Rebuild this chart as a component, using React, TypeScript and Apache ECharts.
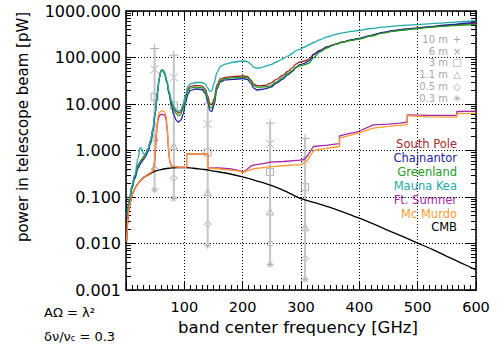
import React, { useEffect, useRef } from 'react';
import * as echarts from 'echarts';

// ---------- data ----------
const siteFreqs = [2, 6, 10, 15, 21, 24, 27, 30, 33, 38, 42, 46, 50, 54, 57, 60, 63, 66, 70, 74, 78, 82, 86, 90, 94, 98, 102, 106, 110, 120, 130, 136, 140, 144, 147, 151, 156, 162, 170, 185, 200, 208, 214, 219, 224, 230, 240, 248, 258, 268, 278, 285, 291, 298, 306, 314, 322, 332, 344, 358, 372, 386, 400, 420, 440, 460, 480, 500, 520, 540, 560, 580, 600];

const southPole = [0.04, 0.09, 0.17, 0.28, 0.48, 0.56, 0.64, 0.72, 0.82, 1.1, 1.6, 2.8, 6.5, 18, 36, 50, 53, 46, 30, 17, 11, 8.2, 7, 6.4, 6.8, 9, 14.5, 21, 24, 25, 24.5, 21, 15, 10, 9.5, 13, 26, 35, 37.5, 39, 40, 39, 33, 27, 25, 24.5, 25.5, 28, 34, 41, 51, 60, 72, 80, 84, 92, 120, 142, 168, 192, 215, 235, 255, 295, 342, 375, 400, 425, 450, 475, 500, 525, 550];
const chajnantor = [0.035, 0.08, 0.15, 0.25, 0.42, 0.5, 0.57, 0.64, 0.72, 0.95, 1.4, 2.5, 6, 17, 36, 52, 55, 47, 30, 16, 9, 5.8, 4.5, 4.1, 4.5, 6, 10.5, 16, 19.5, 21, 20.5, 17, 11, 7.2, 6.9, 9.5, 21, 30, 33, 34, 35, 34, 28, 22, 20, 20.5, 21.5, 23, 28, 34, 43, 50, 60, 70, 75, 85, 115, 138, 166, 192, 217, 238, 258, 300, 348, 382, 410, 435, 460, 490, 515, 545, 580];
const greenland = [0.04, 0.09, 0.17, 0.28, 0.48, 0.56, 0.64, 0.72, 0.82, 1.1, 1.6, 2.8, 6.5, 18, 36, 50, 53, 46, 30, 17, 10.5, 7.5, 6.2, 5.6, 6.0, 8, 13, 19, 22, 23, 22.5, 19, 13, 8.5, 8.2, 11, 23, 32, 35, 37, 38, 37, 31, 25, 23, 23, 23.5, 24.6, 30, 37, 46, 52, 62, 66, 70, 76, 100, 130, 160, 190, 215, 235, 250, 290, 335, 370, 395, 420, 445, 465, 485, 500, 515];
const maunaKea = [0.04, 0.09, 0.17, 0.3, 0.7, 1.15, 1.1, 0.85, 0.85, 1.1, 1.6, 2.8, 6.5, 18, 37, 52, 55, 48, 32, 19, 12, 8.8, 7.5, 6.9, 7.5, 10, 16, 24, 27, 29, 29, 27, 22, 18.6, 19, 28, 48, 64, 72, 80, 84, 82, 72, 62, 59, 60, 65, 70, 80, 92, 108, 122, 140, 150, 168, 188, 210, 240, 275, 310, 340, 365, 385, 420, 450, 475, 495, 510, 530, 550, 570, 595, 620];

const ftSumnerFreq = [1, 3, 5, 10, 15, 20, 30, 40, 46, 49, 51, 53, 55, 57, 59, 62, 65, 67, 69, 71, 73, 75, 78, 90, 104, 104, 140, 140, 160, 180, 195, 200, 206, 215, 221, 235, 247, 270, 298, 305, 310, 316, 321, 345, 366, 366, 382, 398, 424, 450, 470, 482, 482, 520, 567, 567, 600];
const ftSumnerVal = [0.011, 0.033, 0.056, 0.107, 0.152, 0.193, 0.265, 0.32, 0.36, 0.55, 1.3, 3.0, 4.6, 5.5, 5.9, 6.0, 5.9, 5.4, 4.4, 2.4, 1.0, 0.58, 0.46, 0.44, 0.44, 0.84, 0.84, 0.43, 0.42, 0.40, 0.37, 0.34, 0.38, 0.47, 0.49, 0.52, 0.56, 0.58, 0.62, 0.64, 0.75, 0.95, 1.22, 1.3, 1.41, 2.07, 2.3, 2.56, 3.57, 3.7, 3.88, 4.1, 5.85, 5.7, 5.7, 6.9, 7.0];

const mcMurdoFreq = [1, 3, 5, 10, 15, 20, 30, 40, 46, 49, 51, 53, 55, 57, 59, 62, 65, 67, 69, 71, 73, 75, 78, 90, 104, 104, 140, 140, 160, 180, 195, 200, 206, 214, 222, 235, 250, 270, 290, 300, 306, 312, 318, 322, 340, 366, 366, 382, 398, 424, 450, 482, 482, 520, 567, 567, 600];
const mcMurdoVal = [0.011, 0.033, 0.056, 0.107, 0.152, 0.193, 0.265, 0.32, 0.36, 0.6, 1.5, 3.5, 5.5, 6.5, 6.9, 7.1, 7.0, 6.5, 5.2, 2.8, 1.1, 0.6, 0.46, 0.44, 0.44, 0.84, 0.84, 0.42, 0.40, 0.38, 0.36, 0.33, 0.36, 0.39, 0.41, 0.43, 0.45, 0.47, 0.49, 0.49, 0.55, 0.65, 0.85, 1.0, 1.1, 1.22, 1.85, 2.1, 2.37, 3.03, 3.3, 3.6, 5.6, 5.3, 5.2, 6.2, 6.3];

const cmbFreq = [1, 3, 5, 10, 15, 20, 30, 40, 50, 60, 70, 80, 90, 100, 110, 120, 135, 150, 175, 200, 225, 250, 275, 300, 325, 350, 375, 400, 425, 450, 475, 500, 525, 550, 575, 600];
const cmbVal = [0.011, 0.033, 0.055, 0.105, 0.15, 0.19, 0.26, 0.31, 0.36, 0.39, 0.41, 0.425, 0.43, 0.43, 0.425, 0.41, 0.39, 0.36, 0.32, 0.27, 0.22, 0.175, 0.13, 0.092, 0.0745, 0.06, 0.046, 0.035, 0.026, 0.019, 0.014, 0.0102, 0.0075, 0.0053, 0.0038, 0.0027];

// telescope band points (aperture diameters)
const bandFreqs = [49, 82, 140, 247, 307];
const ap10m = [156, 112, 10.4, 3.88, 1.81];
const ap6m = [56, 37.2, 3.75, 1.39, 0.65];
const ap3m = [14.3, 9.3, 0.906, 0.343, 0.163];
const ap1p1m = [1.94, 1.26, 0.127, 0.0488, 0.0225];
const ap0p5m = [0.398, 0.255, 0.026, 0.0099, 0.0047];
const ap0p3m = [0.143, 0.093, 0.0092, 0.00355, 0.0017];

const apertureLabels = ['10 m', '6 m', '3 m', '1.1 m', '0.5 m', '0.3 m'];
const apertureGlyphs = ['+', '×', '□', '△', '◇', '✳'];
const siteNames = ['South Pole', 'Chajnantor', 'Greenland', 'Mauna Kea', 'Ft. Sumner', 'Mc Murdo', 'CMB'];

const xTicks = [100, 200, 300, 400, 500, 600];

// ---------- styling ----------
const FONT = 'DejaVu Sans';
const siteColors = ['#a52a2a', '#2323a3', '#1f9a1f', '#22aaaa', '#a72aa7', '#ff9a30', '#000000'];
const markerPaths = [
  'path://M5,0L5,10M0,5L10,5',
  'path://M0,0L10,10M10,0L0,10',
  'path://M0,0L10,0L10,10L0,10Z',
  'path://M5,0L10,9L0,9Z',
  'path://M5,0L10,5L5,10L0,5Z',
  'path://M5,0L5,10M0,5L10,5M1.5,1.5L8.5,8.5M8.5,1.5L1.5,8.5',
];
const markerSizes = [9, 8, 7, 7, 7, 7];

function minorLogTicks(): number[] {
  const out: number[] = [];
  for (let e = -3; e <= 2; e++) {
    for (let k = 2; k <= 9; k++) out.push(+(k * Math.pow(10, e)).toPrecision(3));
  }
  return out;
}

const zip = (xs: number[], ys: number[]) => xs.map((x, i) => [x, ys[i]]);

export default function App() {
  const ref = useRef<HTMLDivElement>(null);

  useEffect(() => {
    if (!ref.current) return;
    const chart = echarts.init(ref.current, undefined, { renderer: 'svg' });
    const minor = minorLogTicks();

    const apertureSets = [ap10m, ap6m, ap3m, ap1p1m, ap0p5m, ap0p3m];

    const errorBars = bandFreqs.map((f, i) => ({
      type: 'line',
      data: [[f, ap10m[i]], [f, ap0p3m[i]]],
      symbol: 'none',
      silent: true,
      lineStyle: { color: '#c4c4c4', width: 2 },
    }));

    const markers = apertureSets.map((vals, k) => ({
      type: 'scatter',
      name: apertureLabels[k],
      data: zip(bandFreqs, vals),
      symbol: markerPaths[k],
      symbolSize: markerSizes[k],
      silent: true,
      itemStyle: { color: 'rgba(0,0,0,0)', borderColor: '#9a9a9a', borderWidth: 1 },
    }));

    const groundSets = [southPole, chajnantor, greenland, maunaKea];
    const ground = groundSets.map((vals, k) => ({
      type: 'line',
      name: siteNames[k],
      data: zip(siteFreqs, vals),
      symbol: 'none',
      smooth: 0.35,
      smoothMonotone: 'x',
      lineStyle: { color: siteColors[k], width: 1.3 },
    }));

    const cmb = {
      type: 'line', name: 'CMB', data: zip(cmbFreq, cmbVal), symbol: 'none', smooth: 0.3,
      lineStyle: { color: '#000', width: 1.3 },
    };
    const ftSumner = {
      type: 'line', name: 'Ft. Sumner', data: zip(ftSumnerFreq, ftSumnerVal), symbol: 'none',
      lineStyle: { color: siteColors[4], width: 1.3 },
    };
    const mcMurdo = {
      type: 'line', name: 'Mc Murdo', data: zip(mcMurdoFreq, mcMurdoVal), symbol: 'none',
      lineStyle: { color: siteColors[5], width: 1.3 },
    };

    const textStyle = { fontFamily: FONT, color: '#000' };

    const apertureLegend: any[] = [];
    apertureLabels.forEach((lab, i) => {
      const y = 39.5 + i * 11.7;
      apertureLegend.push({
        type: 'text', x: 448, y, style: { text: lab, fill: '#a8a8a8', font: `10px ${FONT}`, textAlign: 'right', textVerticalAlign: 'middle' },
      });
      apertureLegend.push({
        type: 'text', x: 457, y, style: { text: apertureGlyphs[i], fill: '#a8a8a8', font: `10px ${FONT}`, textAlign: 'center', textVerticalAlign: 'middle' },
      });
    });

    const siteLegend = siteNames.map((n, i) => ({
      type: 'text', x: 457, y: 144 + i * 13.9,
      style: { text: n, fill: siteColors[i], font: `11.5px ${FONT}`, textAlign: 'right', textVerticalAlign: 'middle' },
    }));

    const yBase = {
      type: 'log', logBase: 10, min: 0.001, max: 1000,
    };

    chart.setOption({
      animation: false,
      backgroundColor: '#fff',
      grid: { left: 126, top: 11, right: 22, bottom: 66 },
      xAxis: [
        {
          type: 'value', min: 0, max: 600, interval: 100, position: 'bottom',
          axisLine: { onZero: false, lineStyle: { color: '#000', width: 1.5 } },
          axisTick: { inside: true, length: 9, lineStyle: { color: '#000' } },
          minorTick: { show: true, splitNumber: 10, length: 5, lineStyle: { color: '#000' } },
          axisLabel: { ...textStyle, fontSize: 14.5, margin: 9, formatter: (v: number) => (xTicks.includes(v) ? String(v) : '') },
          splitLine: { show: true, lineStyle: { color: '#000', type: [1, 2], width: 1 } },
        },
        {
          type: 'value', min: 0, max: 600, interval: 100, position: 'top',
          axisLine: { onZero: false, lineStyle: { color: '#000', width: 1.5 } },
          axisTick: { inside: true, length: 9, lineStyle: { color: '#000' } },
          minorTick: { show: true, splitNumber: 10, length: 5, lineStyle: { color: '#000' } },
          axisLabel: { show: false },
          splitLine: { show: false },
        },
      ],
      yAxis: [
        {
          ...yBase, position: 'left',
          axisLine: { onZero: false, lineStyle: { color: '#000', width: 1.5 } },
          axisTick: { inside: true, length: 10, lineStyle: { color: '#000' } },
          axisLabel: { ...textStyle, fontSize: 16, margin: 5, formatter: (v: number) => v.toFixed(3) },
          splitLine: { show: true, lineStyle: { color: '#000', type: [1, 2], width: 1 } },
        },
        {
          ...yBase, position: 'left',
          axisLine: { show: false, onZero: false },
          axisTick: { inside: true, length: 5, customValues: minor, lineStyle: { color: '#000' } },
          axisLabel: { show: false },
          splitLine: { show: false },
        },
        {
          ...yBase, position: 'right',
          axisLine: { onZero: false, lineStyle: { color: '#000', width: 1.5 } },
          axisTick: { inside: true, length: 10, lineStyle: { color: '#000' } },
          axisLabel: { show: false },
          splitLine: { show: false },
        },
        {
          ...yBase, position: 'right',
          axisLine: { show: false, onZero: false },
          axisTick: { inside: true, length: 5, customValues: minor, lineStyle: { color: '#000' } },
          axisLabel: { show: false },
          splitLine: { show: false },
        },
      ],
      series: [...errorBars, ...markers, ...ground, cmb, ftSumner, mcMurdo],
      graphic: [
        {
          type: 'text', x: 23, y: 127, rotation: Math.PI / 2,
          style: { text: 'power in telescope beam [pW]', fill: '#000', font: `15px ${FONT}`, textAlign: 'center', textVerticalAlign: 'middle' },
        },
        {
          type: 'text', x: 298, y: 327,
          style: { text: 'band center frequency [GHz]', fill: '#000', font: `16.5px ${FONT}`, textAlign: 'center', textVerticalAlign: 'middle' },
        },
        {
          type: 'text', x: 44, y: 312,
          style: { text: 'AΩ = λ²', fill: '#000', font: `13px ${FONT}`, textAlign: 'left', textVerticalAlign: 'middle' },
        },
        {
          type: 'text', x: 44, y: 336,
          style: {
            text: 'δν/ν{s|c} = 0.3', fill: '#000', font: `13px ${FONT}`, textAlign: 'left', textVerticalAlign: 'middle',
            rich: { s: { fontSize: 8, fontFamily: FONT, verticalAlign: 'bottom', padding: [5, 0, 0, 0] } },
          },
        },
        ...apertureLegend,
        ...siteLegend,
      ],
    });

    return () => chart.dispose();
  }, []);

  return <div ref={ref} style={{ position: 'absolute', left: 0, top: 0, width: 498, height: 356 }} />;
}
